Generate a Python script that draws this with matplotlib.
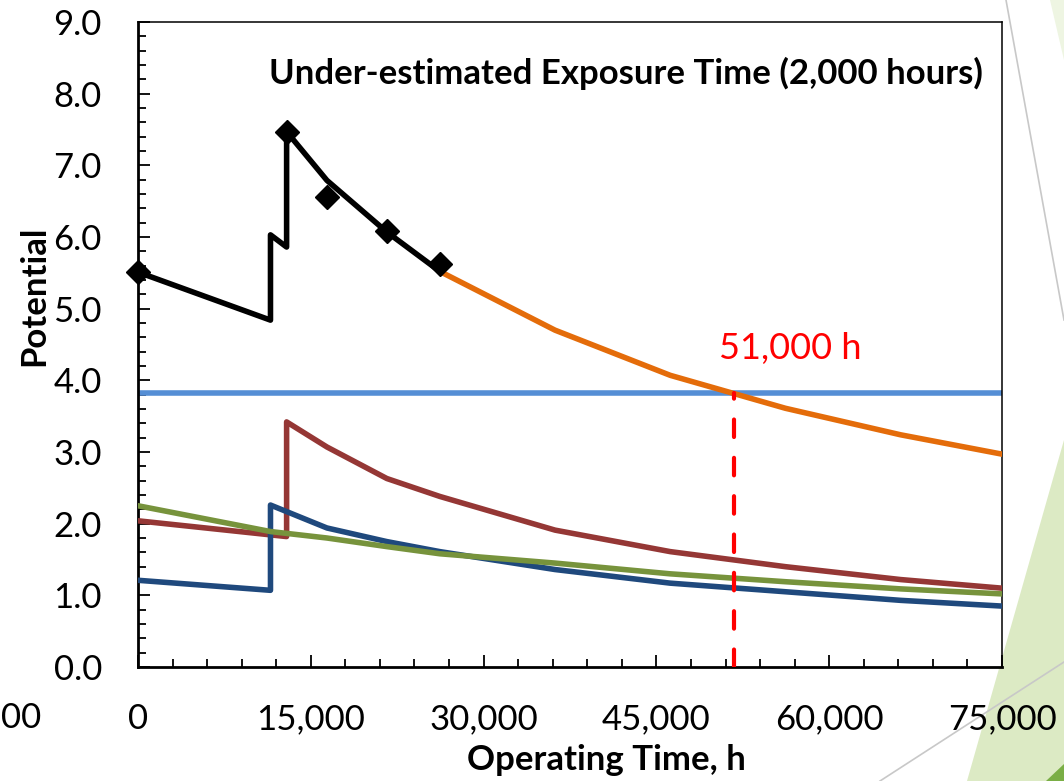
import matplotlib
matplotlib.use("Agg")
import matplotlib.pyplot as plt
from matplotlib.patches import Polygon
from matplotlib.lines import Line2D
from matplotlib.ticker import MultipleLocator, FuncFormatter

plt.rcParams['font.family'] = ['Lato', 'DejaVu Sans']

# measured potential (black line + diamond markers)
meas_x = [0, 11500, 11500, 12900, 12900, 16400, 21600, 26200]
meas_y = [5.51, 4.84, 6.03, 5.86, 7.47, 6.79, 6.07, 5.52]
mark_x = [0, 12900, 16400, 21600, 26200]
mark_y = [5.51, 7.47, 6.56, 6.08, 5.63]

# predicted potential (orange)
pred_x = [26200, 36200, 46200, 56200, 66200, 75000]
pred_y = [5.52, 4.70, 4.07, 3.61, 3.24, 2.97]

# threshold (light blue)
limit_y = 3.82
cross_x = 51700

# other components
brown_x = [0, 12900, 12900, 16400, 21600, 26200, 36200, 46200, 56200, 66200, 75000]
brown_y = [2.04, 1.82, 3.42, 3.07, 2.63, 2.38, 1.91, 1.61, 1.40, 1.22, 1.10]

navy_x = [0, 11500, 11500, 16400, 21600, 26200, 36200, 46200, 56200, 66200, 75000]
navy_y = [1.21, 1.07, 2.26, 1.94, 1.75, 1.61, 1.36, 1.17, 1.05, 0.93, 0.85]

green_x = [0, 11500, 16400, 21600, 26200, 36200, 46200, 56200, 66200, 75000]
green_y = [2.25, 1.89, 1.80, 1.68, 1.58, 1.45, 1.30, 1.19, 1.09, 1.02]

W, H = 1064, 781
fig = plt.figure(figsize=(W / 100, H / 100), dpi=100)

# slide background decoration (pixel coords -> figure fraction)
def px(pts):
    return [(x / W, 1 - y / H) for x, y in pts]

fig.patches.append(Polygon(px([(1064, 440), (967, 781), (1064, 781)]), closed=True,
                           transform=fig.transFigure, fc='#DCEAC4', ec='none', zorder=-2))
fig.patches.append(Polygon(px([(1050, 0), (1064, 0), (1064, 60)]), closed=True,
                           transform=fig.transFigure, fc='#EEF5E2', ec='none', zorder=-2))
fig.patches.append(Polygon(px([(1046, 781), (1064, 781), (1064, 764)]), closed=True,
                           transform=fig.transFigure, fc='#7AAE45', ec='none', zorder=-2))
for a, b in [((1006, 0), (1064, 320)), ((880, 781), (1064, 662))]:
    (x0, y0), (x1, y1) = px([a, b])
    fig.lines.append(Line2D([x0, x1], [y0, y1], transform=fig.transFigure,
                            color='#C8C8C8', lw=1.2, zorder=-1))

ax = fig.add_axes([138 / W, 1 - 667 / H, (1002 - 138) / W, (667 - 22) / H])
ax.set_facecolor('white')

ax.plot([0, 75000], [limit_y, limit_y], color='#558ED5', lw=4.0, solid_capstyle='butt', zorder=2, clip_on=False)
ax.plot(brown_x, brown_y, color='#953735', lw=4.0, zorder=3)
ax.plot(navy_x, navy_y, color='#1F497D', lw=4.0, zorder=3)
ax.plot(green_x, green_y, color='#77933C', lw=4.0, zorder=4)
ax.plot(pred_x, pred_y, color='#E46C0A', lw=4.0, zorder=4)
ax.plot(meas_x, meas_y, color='black', lw=4.0, zorder=5)
ax.plot(mark_x, mark_y, ls='none', marker='D', ms=12.5, color='black', zorder=6, clip_on=False)
ax.plot([cross_x, cross_x], [0, limit_y], color='red', lw=3.0, ls=(0, (4.2, 5)),
        dash_capstyle='round', zorder=7)

ax.text(56600, 4.44, '51,000 h', color='red', fontsize=26, fontweight='normal',
        ha='center', va='center')
ax.text(0.978, 0.921, 'Under-estimated Exposure Time (2,000 hours)', transform=ax.transAxes,
        fontsize=25, fontweight='bold', ha='right', va='center')

ax.set_xlim(0, 75000)
ax.set_ylim(0, 9)
ax.xaxis.set_major_locator(MultipleLocator(15000))
ax.xaxis.set_minor_locator(MultipleLocator(3000))
ax.yaxis.set_major_locator(MultipleLocator(1))
ax.yaxis.set_minor_locator(MultipleLocator(0.2))
ax.xaxis.set_major_formatter(FuncFormatter(lambda v, p: f'{v:,.0f}'))
ax.yaxis.set_major_formatter(FuncFormatter(lambda v, p: f'{v:.1f}'))

ax.tick_params(which='both', direction='in', width=1.3, colors='black', labelsize=25)
ax.tick_params(which='major', length=8.5, pad=26)
ax.tick_params(which='minor', length=6)
ax.tick_params(axis='x', which='both', top=False)
ax.tick_params(axis='y', which='both', right=False)

for s in ['left', 'bottom']:
    ax.spines[s].set_linewidth(2.0)
for s in ['top', 'right']:
    ax.spines[s].set_linewidth(1.1)

ax.set_xlabel('Operating Time, h', fontsize=25, fontweight='bold')
ax.set_ylabel('Potential', fontsize=25, fontweight='bold')
ax.xaxis.set_label_coords((606 - 138) / (1002 - 138), -(744 - 667) / (667 - 22))
ax.yaxis.set_label_coords(-(138 - 50) / (1002 - 138), (667 - 296) / (667 - 22))

# visible tail of a neighbouring tick label at the left edge
fig.text(1 / W, 1 - 718 / H, '00', fontsize=25, ha='left', va='center')

fig.savefig('out.png', dpi=100)
